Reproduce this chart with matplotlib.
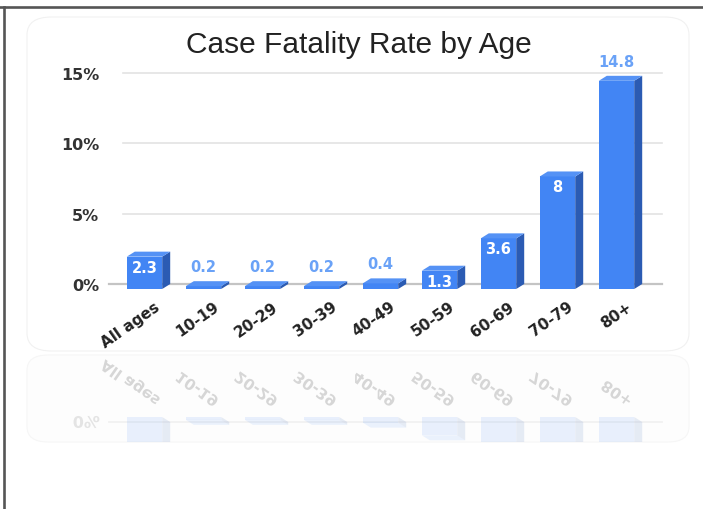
"""Case fatality rate by age: faux-3D bar chart with a faint reflection."""

import matplotlib

matplotlib.use("Agg")
import matplotlib.pyplot as plt
from matplotlib.font_manager import FontProperties
from matplotlib.lines import Line2D
from matplotlib.patches import FancyBboxPatch, PathPatch, Polygon, Rectangle
from matplotlib.textpath import TextPath
from matplotlib.transforms import Affine2D

categories = ["All ages", "10-19", "20-29", "30-39", "40-49", "50-59", "60-69", "70-79", "80+"]
rates = [2.3, 0.2, 0.2, 0.2, 0.4, 1.3, 3.6, 8, 14.8]
value_labels = ["2.3", "0.2", "0.2", "0.2", "0.4", "1.3", "3.6", "8", "14.8"]
yticks = [0, 5, 10, 15]
ytick_labels = ["0%", "5%", "10%", "15%"]

W, H, DPI = 703, 510, 100
FRONT = "#4285f4"
SIDE = "#2b5bb3"
TOP = "#5592f5"
LABEL_BLUE = "#6aa2f7"
TITLE_FONT = "Liberation Sans"
BOLD_FONT = "DejaVu Sans"

plt.rcParams["font.family"] = [TITLE_FONT, "DejaVu Sans"]

fig = plt.figure(figsize=(W / DPI, H / DPI), dpi=DPI)


def fx(px):
    return px / W


def fy(py):
    return 1 - py / H


# page frame (top and left edge of the screenshot)
fig.add_artist(Line2D([0, 1], [fy(7.5), fy(7.5)], color="#555555", lw=1.9))
fig.add_artist(Line2D([fx(4), fx(4)], [0, fy(7.5)], color="#555555", lw=1.9))

# rounded cards
fig.add_artist(FancyBboxPatch((fx(27), fy(352)), fx(689 - 27), (352 - 18) / H,
                              boxstyle="round,pad=0,rounding_size=0.035",
                              fc="white", ec="#f1f1f1", lw=0.8, zorder=0))
fig.add_artist(FancyBboxPatch((fx(27), fy(443)), fx(689 - 27), (443 - 356) / H,
                              boxstyle="round,pad=0,rounding_size=0.03",
                              fc="#fdfdfd", ec="#f6f6f6", lw=0.8, zorder=0))

fig.text(fx(359), fy(45), "Case Fatality Rate by Age", ha="center", va="center",
         fontsize=21.5, color="#222222")

# main axes = back plane of the 3D chart
left, right, top, base = 123, 654, 74, 285
ax = fig.add_axes([fx(left), fy(base), fx(right - left), (base - top) / H])
ax.set_xlim(-0.5, len(categories) - 0.5)
ax.set_ylim(0, 15)
ax.patch.set_visible(False)
for s in ax.spines.values():
    s.set_visible(False)
ax.set_xticks([])
ax.set_yticks(yticks)
ax.set_yticklabels(ytick_labels, fontsize=11.5, fontweight="bold", color="#333333",
                   family=BOLD_FONT)
ax.tick_params(axis="y", length=0, pad=17)
for t in yticks[1:]:
    ax.axhline(t, xmax=1.015, color="#e3e3e3", lw=1.2, zorder=0, clip_on=False)
ax.axhline(0, xmin=-0.027, xmax=1.015, color="#c4c4c4", lw=1.6, zorder=0, clip_on=False)

px_x = (right - left) / len(categories)
px_y = (base - top) / 15
dx = 8 / px_x
dy = 5 / px_y
bw = 0.6


def draw_bars(a, alpha=1.0, clip=False):
    for i, v in enumerate(rates):
        x0, x1 = i - bw / 2, i + bw / 2
        front = Rectangle((x0 - dx, -dy), bw, v, fc=FRONT, ec="none", alpha=alpha,
                          zorder=3)
        side = Polygon([(x1 - dx, -dy), (x1, 0), (x1, v), (x1 - dx, v - dy)],
                       closed=True, fc=SIDE, ec="none", alpha=alpha, zorder=3)
        topf = Polygon([(x0 - dx, v - dy), (x0, v), (x1, v), (x1 - dx, v - dy)],
                       closed=True, fc=TOP, ec="none", alpha=alpha, zorder=3)
        for p in (front, side, topf):
            a.add_patch(p)
            p.set_clip_on(clip)


draw_bars(ax)

for i, (v, lab) in enumerate(zip(rates, value_labels)):
    inside = 1 <= v <= 12
    ax.annotate(lab, (i - dx, v - dy), xytext=(0, -7.5 if inside else 14),
                textcoords="offset points", ha="center", va="center",
                fontsize=10.5, fontweight="bold", family=BOLD_FONT,
                color="white" if inside else LABEL_BLUE, zorder=5,
                annotation_clip=False)

lab_dx, lab_pad, lab_size, lab_rot = 1, 10.5, 11, 35
for i, c in enumerate(categories):
    ax.annotate(c, (i, 0), xytext=(lab_dx, -lab_pad), textcoords="offset points",
                rotation=lab_rot, rotation_mode="anchor", ha="right", va="top",
                fontsize=lab_size, fontweight="bold", family=BOLD_FONT,
                color="#222222", annotation_clip=False)

# reflection: mirror of the chart about y = 354 px, clipped at 443 px
mirror = 354
rtop, rbot = mirror, 443
ax2 = fig.add_axes([fx(left), fy(rbot), fx(right - left), (rbot - rtop) / H])
ax2.set_xlim(ax.get_xlim())
ax2.set_ylim((rbot - (2 * mirror - base)) / px_y, (rtop - (2 * mirror - base)) / px_y)
ax2.axis("off")
ax2.patch.set_visible(False)
draw_bars(ax2, alpha=0.11, clip=True)
ax2.axhline(0, xmin=-0.027, xmax=1.015, color="#f0f0f0", lw=1.2, clip_on=False)

fp = FontProperties(family=BOLD_FONT, weight="bold", size=lab_size)
m_disp = H - mirror
for i, c in enumerate(categories):
    ax_, ay_ = ax.transData.transform((i, 0))
    ax_ += lab_dx * DPI / 72
    ay_ -= lab_pad * DPI / 72
    tp = TextPath((0, 0), c, prop=fp)
    ext = tp.get_extents()
    tr = (Affine2D().translate(-ext.x1, -ext.y1).scale(DPI / 72).rotate_deg(lab_rot)
          .scale(1, -1).translate(ax_, 2 * m_disp - ay_))
    fig.add_artist(PathPatch(tp, transform=tr, fc="#d2d2d2", ec="none", alpha=0.9))

tp = TextPath((0, 0), "0%", prop=FontProperties(family=BOLD_FONT, weight="bold", size=11.5))
ext = tp.get_extents()
zx, zy = ax.transData.transform((-0.5, 0))
tr = (Affine2D().translate(-ext.x1, -(ext.y0 + ext.y1) / 2).scale(DPI / 72)
      .scale(1, -1).translate(zx - 17 * DPI / 72, 2 * m_disp - zy))
fig.add_artist(PathPatch(tp, transform=tr, fc="#e4e4e4", ec="none"))

fig.savefig("out.png", dpi=DPI)
